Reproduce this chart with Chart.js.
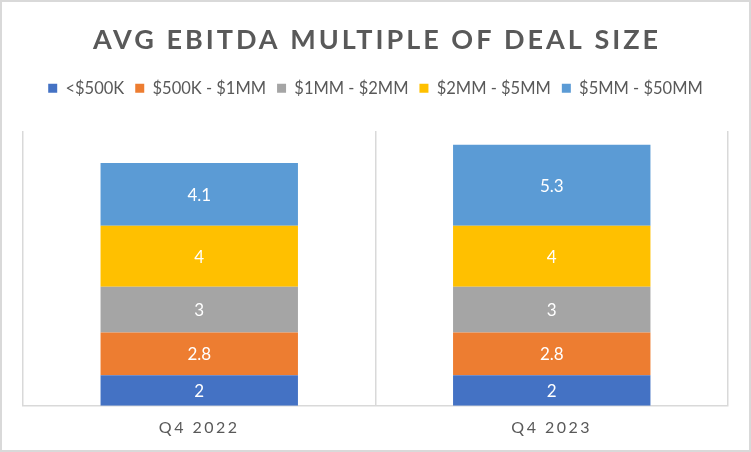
<!DOCTYPE html>
<html>
<head>
<meta charset="utf-8">
<script src="https://cdn.jsdelivr.net/npm/chart.js@4.4.1/dist/chart.umd.min.js"></script>
<style>
  html, body { margin: 0; padding: 0; background: #fff; }
  #wrap {
    width: 751px; height: 452px;
    box-sizing: border-box;
    border: 2px solid #d9d9d9;
    position: relative;
  }
</style>
</head>
<body>
<div id="wrap"><canvas id="myChart"></canvas></div>
<script>
const chartTitle = "AVG EBITDA MULTIPLE OF DEAL SIZE";
const quarters = ["Q4 2022", "Q4 2023"];
const sizeBands = ["<$500K", "$500K - $1MM", "$1MM - $2MM", "$2MM - $5MM", "$5MM - $50MM"];
const under500k = [2, 2];
const from500kTo1mm = [2.8, 2.8];
const from1mmTo2mm = [3, 3];
const from2mmTo5mm = [4, 4];
const from5mmTo50mm = [4.1, 5.3];
const bandColors = ["#4472C4", "#ED7D31", "#A5A5A5", "#FFC000", "#5B9BD5"];

const textGray = "#595959";
const gridGray = "#d9d9d9";

Chart.defaults.font.family = "Lato, 'Open Sans', sans-serif";
Chart.defaults.color = textGray;

const seriesValues = [under500k, from500kTo1mm, from1mmTo2mm, from2mmTo5mm, from5mmTo50mm];

// white numbers inside each stacked segment + spacing for the axis labels
const segmentLabels = {
  id: "segmentLabels",
  afterDatasetsDraw(chart) {
    const ctx = chart.ctx;
    ctx.save();
    ctx.fillStyle = "#fff";
    ctx.font = "17px Lato, sans-serif";
    ctx.textAlign = "center";
    ctx.textBaseline = "middle";
    chart.data.datasets.forEach((ds, i) => {
      chart.getDatasetMeta(i).data.forEach((bar, j) => {
        const mid = (bar.y + bar.base) / 2;
        ctx.fillText(String(ds.data[j]), bar.x, mid + 1);
      });
    });
    ctx.restore();
    ctx.letterSpacing = "2.5px";
  },
  afterDraw(chart) {
    const ctx = chart.ctx;
    ctx.save();
    ctx.letterSpacing = "3px";
    ctx.fillStyle = textGray;
    ctx.font = "bold 27px Lato, sans-serif";
    ctx.textAlign = "center";
    ctx.textBaseline = "middle";
    ctx.fillText(chartTitle, chart.width / 2 + 1.5, 38);
    ctx.restore();
    ctx.letterSpacing = "0px";
  }
};

// fixed legend height so the plot starts where the reference does
const legendHeight = {
  id: "legendHeight",
  beforeInit(chart) {
    const fit = chart.legend.fit;
    chart.legend.fit = function () {
      fit.bind(chart.legend)();
      this.height = 62;
    };
  }
};

const ctx = document.querySelector("#myChart").getContext("2d");
const chart = new Chart(ctx, {
  type: "bar",
  data: {
    labels: quarters,
    datasets: sizeBands.map((name, i) => ({
      label: name,
      data: seriesValues[i],
      backgroundColor: bandColors[i],
      barPercentage: 0.56,
      categoryPercentage: 1,
    })),
  },
  options: {
    responsive: true,
    maintainAspectRatio: false,
    animation: false,
    layout: { padding: { top: 67, left: 21, right: 21, bottom: 1 } },
    plugins: {
      tooltip: { enabled: false },
      title: { display: false },
      legend: {
        position: "top",
        labels: {
          boxWidth: 9,
          boxHeight: 9,
          padding: 11,
          color: textGray,
          font: { size: 16.5 },
        },
      },
    },
    scales: {
      x: {
        stacked: true,
        grid: { color: gridGray, lineWidth: 1.5, drawTicks: false, offset: true },
        border: { color: gridGray, width: 1.5 },
        ticks: { color: textGray, font: { size: 16 }, padding: 12, z: 1 },
      },
      y: {
        stacked: true,
        display: false,
        min: 0,
        max: 18,
      },
    },
  },
  plugins: [segmentLabels, legendHeight],
});
</script>
</body>
</html>
